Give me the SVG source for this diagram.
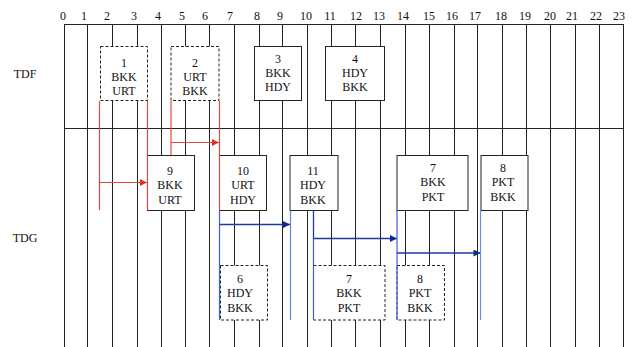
<svg xmlns="http://www.w3.org/2000/svg" width="632" height="347" viewBox="0 0 632 347">
<style>
text{font-family:"Liberation Serif","Times New Roman",serif;font-size:12px;fill:#111;text-anchor:middle}
.grid{stroke:#222;stroke-width:1;fill:none}
.box{fill:#fff;stroke:#222;stroke-width:1}
.dash{fill:#fff;stroke:#222;stroke-width:1;stroke-dasharray:3,2}
.red{stroke:#e8463a;stroke-width:1.2;fill:none}
.bv{stroke:#3a62e0;stroke-width:1.2;fill:none}
.bh{stroke:#1f3a9e;stroke-width:1.3;fill:none}
</style>
<defs>
<marker id="ar" viewBox="0 0 10 10" refX="10" refY="5" markerWidth="8" markerHeight="7" markerUnits="userSpaceOnUse" orient="auto"><path d="M0,0L10,5L0,10z" fill="#e03424"/></marker>
<marker id="ab" viewBox="0 0 10 10" refX="10" refY="5" markerWidth="8" markerHeight="7" markerUnits="userSpaceOnUse" orient="auto"><path d="M0,0L10,5L0,10z" fill="#0d2a8c"/></marker>
</defs>
<rect width="632" height="347" fill="#fff"/>
<g id="axis">
<g class="grid">
<path d="M64.5,24.5H623.5M64.5,128.5H623.5"/>
<path d="M64.5,24V347M87.5,24V347M112.5,24V347M137.5,24V347M161.5,24V347M185.5,24V347M209.5,24V347M234.5,24V347M259.5,24V347M282.5,24V347M307.5,24V347M331.5,24V347M355.5,24V347M380.5,24V347M405.5,24V347M429.5,24V347M454.5,24V347M477.5,24V347M502.5,24V347M526.5,24V347M550.5,24V347M575.5,24V347M599.5,24V347M623.5,24V347"/>
</g>
<text x="63" y="20">0</text><text x="84" y="20">1</text><text x="107" y="20">2</text><text x="134" y="20">3</text><text x="158" y="20">4</text><text x="182" y="20">5</text><text x="205" y="20">6</text><text x="230" y="20">7</text><text x="257" y="20">8</text><text x="280" y="20">9</text><text x="306" y="20">10</text><text x="330" y="20">11</text><text x="356" y="20">12</text><text x="379" y="20">13</text><text x="403" y="20">14</text><text x="429" y="20">15</text><text x="452" y="20">16</text><text x="475" y="20">17</text><text x="501" y="20">18</text><text x="525" y="20">19</text><text x="550" y="20">20</text><text x="572" y="20">21</text><text x="596" y="20">22</text><text x="619" y="20">23</text>
<text x="25" y="78">TDF</text>
<text x="25" y="242">TDG</text>
</g>
<g id="n1"><rect class="dash" x="100.5" y="46.5" width="47" height="54"/><text x="124" y="67">1</text><text x="124" y="81">BKK</text><text x="124" y="95">URT</text></g>
<g id="n2"><rect class="dash" x="171" y="46.5" width="48" height="54"/><text x="195" y="67">2</text><text x="195" y="81">URT</text><text x="195" y="95">BKK</text></g>
<g id="n3"><rect class="box" x="254.5" y="46.5" width="47" height="54"/><text x="278" y="63">3</text><text x="278" y="77">BKK</text><text x="278" y="91">HDY</text></g>
<g id="n4"><rect class="box" x="325.5" y="46.5" width="59" height="54"/><text x="355" y="63">4</text><text x="355" y="77">HDY</text><text x="355" y="91">BKK</text></g>
<g id="n9"><rect class="box" x="147.5" y="155.5" width="47" height="55"/><text x="170" y="174.5">9</text><text x="170" y="189">BKK</text><text x="170" y="204">URT</text></g>
<g id="n10"><rect class="box" x="219.5" y="155.5" width="47" height="55"/><text x="243" y="174.5">10</text><text x="243" y="189">URT</text><text x="243" y="204">HDY</text></g>
<g id="n11"><rect class="box" x="290" y="155.5" width="48" height="55"/><text x="313" y="174.5">11</text><text x="313" y="189">HDY</text><text x="313" y="204">BKK</text></g>
<g id="n7a"><rect class="box" x="397" y="155.5" width="71" height="55"/><text x="433" y="172">7</text><text x="433" y="186">BKK</text><text x="433" y="200.5">PKT</text></g>
<g id="n8a"><rect class="box" x="481" y="155.5" width="47" height="55"/><text x="503" y="172">8</text><text x="503" y="186">PKT</text><text x="503" y="200.5">BKK</text></g>
<g id="n6"><rect class="dash" x="220.5" y="265.5" width="47" height="54.5"/><text x="240" y="283">6</text><text x="240" y="297">HDY</text><text x="240" y="312">BKK</text></g>
<g id="n7b"><rect class="dash" x="313.5" y="265.5" width="71.5" height="54.5"/><text x="349" y="283">7</text><text x="349" y="297">BKK</text><text x="349" y="312">PKT</text></g>
<g id="n8b"><rect class="dash" x="397" y="265.5" width="47.5" height="54.5"/><text x="420" y="283">8</text><text x="420" y="297">PKT</text><text x="420" y="312">BKK</text></g>
<g id="connectors">
<path class="red" d="M99.5,101V210"/>
<path class="red" d="M99.5,182.5H147" marker-end="url(#ar)"/>
<path class="red" d="M147.5,101V210.5"/>
<path class="red" d="M171,101V155"/>
<path class="red" d="M171,142.5H219" marker-end="url(#ar)"/>
<path class="red" d="M219.5,101V210.5"/>
<path class="bv" d="M219.5,210.5V320"/>
<path class="bh" d="M219.5,224.5H290" marker-end="url(#ab)"/>
<path class="bv" d="M290.5,210.5V320" style="stroke:#5a86f0"/>
<path class="bh" d="M313.5,210.5V238.5H397" marker-end="url(#ab)"/>
<path class="bv" d="M313.5,238.5V320"/>
<path class="bv" d="M397,210.5V320"/>
<path class="bh" d="M397,253H480.5" marker-end="url(#ab)"/>
<path class="bv" d="M480.5,210.5V320" style="stroke:#6a8ce8"/>
</g>
</svg>
